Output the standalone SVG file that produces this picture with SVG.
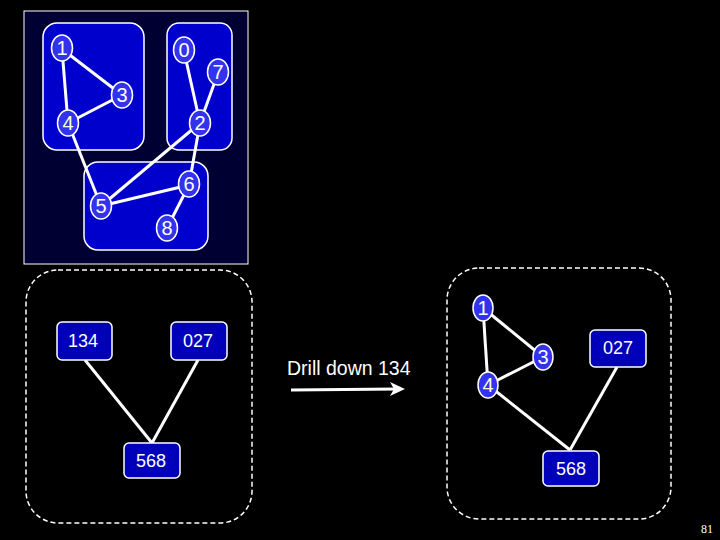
<svg xmlns="http://www.w3.org/2000/svg" width="720" height="540" viewBox="0 0 720 540">
<defs>
<style>
.cl{fill:#0000cc;stroke:#fff;stroke-width:1.5}
.nd{fill:#3333ee;stroke:#fff;stroke-width:1.5}
.bx{fill:#0000bb;stroke:#fff;stroke-width:1.5}
.e{stroke:#fff;stroke-width:3;fill:none}
.t{font-family:"Liberation Sans",Arial,sans-serif;font-size:18px;fill:#fff;text-anchor:middle;dominant-baseline:central}
.tn{font-size:20px}
.d{fill:none;stroke:#fff;stroke-width:1.5;stroke-dasharray:5,3}
</style>
</defs>
<rect width="720" height="540" fill="#000"/>
<rect x="24" y="11" width="224" height="253" fill="#000033" stroke="#fff" stroke-width="1"/>
<g id="cluster134"><rect class="cl" x="43" y="23" width="101" height="127" rx="14"/></g>
<g id="cluster027"><rect class="cl" x="167" y="23" width="65" height="127" rx="12"/></g>
<g id="cluster568"><rect class="cl" x="84" y="162" width="124" height="88" rx="14"/></g>
<g id="connectors">
<line class="e" x1="62" y1="49" x2="122" y2="95"/>
<line class="e" x1="62" y1="49" x2="68" y2="123"/>
<line class="e" x1="122" y1="95" x2="68" y2="123"/>
<line class="e" x1="68" y1="123" x2="101" y2="206"/>
<line class="e" x1="184" y1="51" x2="200" y2="123"/>
<line class="e" x1="218" y1="73" x2="200" y2="123"/>
<line class="e" x1="200" y1="123" x2="101" y2="206"/>
<line class="e" x1="200" y1="123" x2="189" y2="185"/>
<line class="e" x1="101" y1="206" x2="189" y2="185"/>
<line class="e" x1="189" y1="185" x2="167" y2="228"/>
<line class="e" x1="85" y1="360" x2="152" y2="443"/>
<line class="e" x1="198" y1="360" x2="152" y2="443"/>
<line class="e" x1="483" y1="308" x2="543" y2="357"/>
<line class="e" x1="483" y1="308" x2="488" y2="385"/>
<line class="e" x1="543" y1="357" x2="488" y2="385"/>
<line class="e" x1="488" y1="385" x2="570" y2="450"/>
<line class="e" x1="617" y1="367" x2="570" y2="450"/>
<line x1="291" y1="390" x2="398" y2="389" stroke="#fff" stroke-width="3"/>
<path d="M390,382 L405,389 L390,396 L394,389 Z" fill="#fff"/>
</g>
<g id="n1"><ellipse class="nd" cx="62" cy="48" rx="10.5" ry="13"/><text class="t tn" x="62" y="48">1</text></g>
<g id="n0"><ellipse class="nd" cx="184" cy="50" rx="10.5" ry="13"/><text class="t tn" x="184" y="50">0</text></g>
<g id="n7"><ellipse class="nd" cx="218" cy="72" rx="10.5" ry="13"/><text class="t tn" x="218" y="72">7</text></g>
<g id="n3"><ellipse class="nd" cx="122" cy="95" rx="10.5" ry="13"/><text class="t tn" x="122" y="95">3</text></g>
<g id="n4"><ellipse class="nd" cx="68" cy="123" rx="10.5" ry="13"/><text class="t tn" x="68" y="123" style="fill:#ffffcc">4</text></g>
<g id="n2"><ellipse class="nd" cx="200" cy="123" rx="10.5" ry="13"/><text class="t tn" x="200" y="123">2</text></g>
<g id="n6"><ellipse class="nd" cx="189" cy="184" rx="10.5" ry="13"/><text class="t tn" x="189" y="184">6</text></g>
<g id="n5"><ellipse class="nd" cx="101" cy="206" rx="10.5" ry="13"/><text class="t tn" x="101" y="206">5</text></g>
<g id="n8"><ellipse class="nd" cx="167" cy="228" rx="10.5" ry="13"/><text class="t tn" x="167" y="228">8</text></g>
<rect class="d" x="26" y="270" width="226" height="253" rx="32"/>
<g id="b134"><rect class="bx" x="57" y="322" width="55" height="38" rx="5"/><text class="t" x="83" y="341">134</text></g>
<g id="b027"><rect class="bx" x="171" y="322" width="56" height="38" rx="5"/><text class="t" x="198" y="341">027</text></g>
<g id="b568"><rect class="bx" x="124" y="443" width="56" height="35" rx="5"/><text class="t" x="151" y="461">568</text></g>
<text x="287" y="375" style="font-family:'Liberation Sans',Arial,sans-serif;font-size:19.5px;fill:#fff">Drill down 134</text>
<rect class="d" x="447" y="268" width="224" height="251" rx="32"/>
<g id="r1"><ellipse class="nd" cx="483" cy="308" rx="10" ry="13"/><text class="t tn" x="483" y="308">1</text></g>
<g id="r3"><ellipse class="nd" cx="543" cy="357" rx="10" ry="13"/><text class="t tn" x="543" y="357">3</text></g>
<g id="r4"><ellipse class="nd" cx="488" cy="385" rx="10" ry="13"/><text class="t tn" x="488" y="385" style="fill:#ffffcc">4</text></g>
<g id="r027"><rect class="bx" x="590" y="330" width="56" height="37" rx="5"/><text class="t" x="618" y="348">027</text></g>
<g id="r568"><rect class="bx" x="543" y="451" width="56" height="35" rx="5"/><text class="t" x="571" y="469">568</text></g>
<text x="707" y="533" style="font-family:'Liberation Serif',serif;font-size:12px;fill:#fff;text-anchor:middle">81</text>
</svg>
